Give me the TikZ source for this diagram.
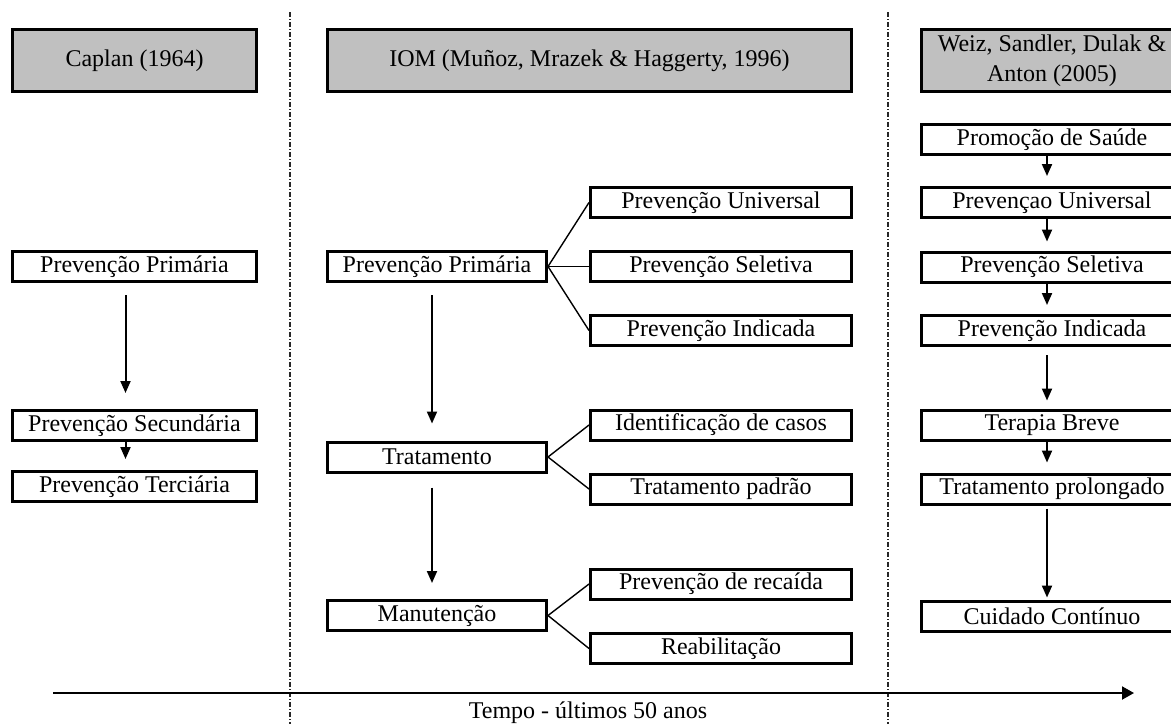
\documentclass[tikz,border=0pt]{standalone}
\usepackage{fontspec}
\setmainfont{Liberation Serif}
\usetikzlibrary{arrows.meta}
\definecolor{hdrgray}{HTML}{C0C0C0}
\begin{document}
\begin{tikzpicture}[x=0.5pt,y=-0.5pt,
  every node/.style={font=\fontsize{12}{15}\selectfont, inner sep=0pt},
  hdr/.style={draw, fill=hdrgray, line width=1.5pt, minimum height=31pt, align=center},
  box/.style={draw, line width=1.5pt, minimum height=15pt},
  colL/.style={box, minimum width=122pt},
  colM/.style={box, minimum width=109.5pt},
  colB/.style={box, minimum width=130.5pt},
  arr/.style={line width=1pt, -{Triangle[width=5pt,length=6pt]}},
  branch/.style={line width=0.7pt},
  divider/.style={line width=0.75pt, black!85, dash pattern=on 2.5pt off 1pt on 0.5pt off 1pt},
  timeline/.style={line width=1pt, -{Triangle[width=6.5pt,length=6pt]}}
]
\useasboundingbox (0,0) rectangle (1171,724);

% column dividers
\coordinate (d1t) at (290,12);  \coordinate (d1b) at (290,724);
\coordinate (d2t) at (888,12);  \coordinate (d2b) at (888,724);
\draw[divider] (d1t) -- (d1b);
\draw[divider] (d2t) -- (d2b);

% headers
\node[hdr, minimum width=122pt] (hcap) at (134.5,60.5) {Caplan (1964)};
\node[hdr, minimum width=262pt] (hiom) at (589.5,60.5) {IOM (Muñoz, Mrazek \& Haggerty, 1996)};
\node[hdr, minimum width=130.5pt] (hwei) at (1052,60.5) {Weiz, Sandler, Dulak \&\\Anton (2005)};

% Caplan
\node[colL] (lprim) at (134.5,266.5) {Prevenção Primária};
\node[colL] (lsec)  at (134.5,425.5) {Prevenção Secundária};
\node[colL] (lter)  at (134.5,486.5) {Prevenção Terciária};
\draw[arr, shorten <=6pt, shorten >=8pt] ([xshift=-4.5pt]lprim.south) -- ([xshift=-4.5pt]lsec.north);
\draw[arr, shorten >=5.5pt] ([xshift=-4.5pt]lsec.south) -- ([xshift=-4.5pt]lter.north);

% IOM
\node[colM] (mprim) at (437,266.5) {Prevenção Primária};
\node[colM] (mtrat) at (437,457)   {Tratamento};
\node[colM] (mman)  at (437,615.5) {Manutenção};
\node[colB] (muni) at (721,202.5) {Prevenção Universal};
\node[colB] (msel) at (721,266.5) {Prevenção Seletiva};
\node[colB] (mind) at (721,330.5) {Prevenção Indicada};
\node[colB] (mide) at (721,425)   {Identificação de casos};
\node[colB] (mpad) at (721,489)   {Tratamento padrão};
\node[colB] (mrec) at (721,584)   {Prevenção de recaída};
\node[colB] (mreb) at (721,648.5) {Reabilitação};
\draw[arr, shorten <=6pt, shorten >=8.5pt] ([xshift=-2.5pt]mprim.south) -- ([xshift=-2.5pt]mtrat.north);
\draw[arr, shorten <=7pt, shorten >=8pt] ([xshift=-2.5pt]mtrat.south) -- ([xshift=-2.5pt]mman.north);
\draw[branch] (mprim.east) -- (muni.west);
\draw[branch] (mprim.east) -- (msel.west);
\draw[branch] (mprim.east) -- (mind.west);
\draw[branch] (mtrat.east) -- (mide.west);
\draw[branch] (mtrat.east) -- (mpad.west);
\draw[branch] (mman.east) -- (mrec.west);
\draw[branch] (mman.east) -- (mreb.west);

% Weiz et al.
\node[colB] (rpro) at (1052,139.5) {Promoção de Saúde};
\node[colB] (runi) at (1052,202.5) {Prevençao Universal};
\node[colB] (rsel) at (1052,267)   {Prevenção Seletiva};
\node[colB] (rind) at (1052,330.5) {Prevenção Indicada};
\node[colB] (rter) at (1052,425)   {Terapia Breve};
\node[colB] (rtpr) at (1052,489)   {Tratamento prolongado};
\node[colB] (rcui) at (1052,616)   {Cuidado Contínuo};
\draw[arr, shorten >=5pt] ([xshift=-2.5pt]rpro.south) -- ([xshift=-2.5pt]runi.north);
\draw[arr, shorten >=4.5pt] ([xshift=-2.5pt]runi.south) -- ([xshift=-2.5pt]rsel.north);
\draw[arr, shorten >=4.5pt] ([xshift=-2.5pt]rsel.south) -- ([xshift=-2.5pt]rind.north);
\draw[arr, shorten <=4pt, shorten >=4pt] ([xshift=-2.5pt]rind.south) -- ([xshift=-2.5pt]rter.north);
\draw[arr, shorten >=5pt] ([xshift=-2.5pt]rter.south) -- ([xshift=-2.5pt]rtpr.north);
\draw[arr, shorten <=1.5pt, shorten >=1pt] ([xshift=-2.5pt]rtpr.south) -- ([xshift=-2.5pt]rcui.north);

% time axis
\coordinate (t0) at (53,693);
\coordinate (t1) at (1134,693);
\draw[timeline] (t0) -- (t1);
\node (tempo) at (588,713) {Tempo - últimos 50 anos};
\end{tikzpicture}
\end{document}
